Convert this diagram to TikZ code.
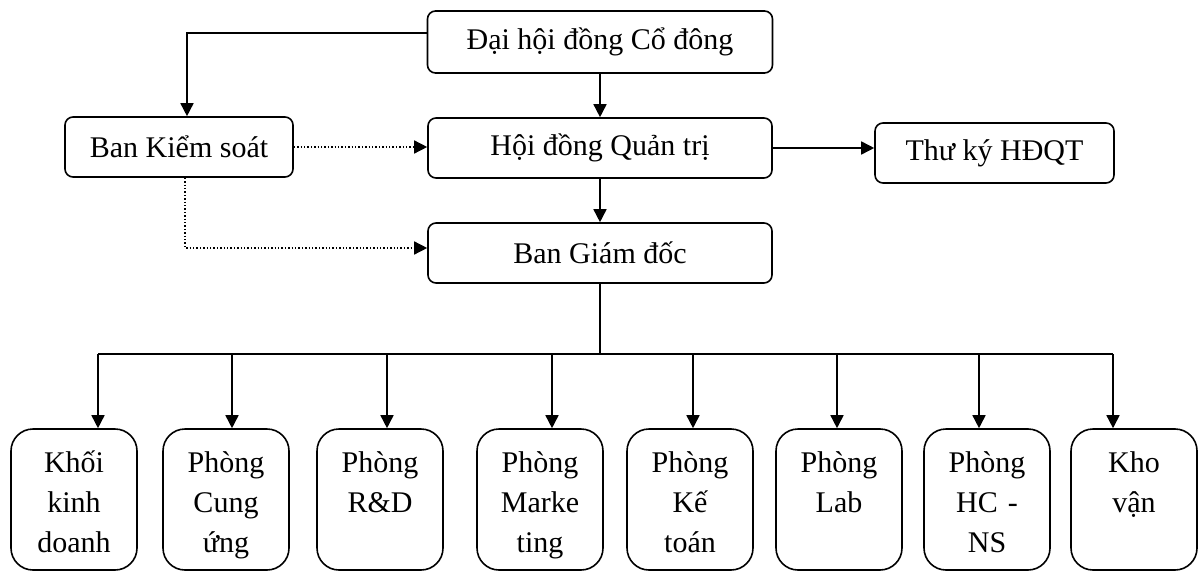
\documentclass[tikz,border=0pt]{standalone}
\usepackage{fontspec}
\setmainfont{Liberation Serif}
\usetikzlibrary{arrows.meta,positioning}

\begin{document}
\begin{tikzpicture}[
      x=0.5pt, y=-0.5pt,
      box/.style={draw, line width=0.8pt, rounded corners=4pt, minimum width=172pt,
        minimum height=30pt, inner sep=2pt, font=\fontsize{15}{20}\selectfont},
      unit/.style={draw, line width=0.8pt, rounded corners=11pt, minimum width=63pt,
        minimum height=70.5pt, text width=60pt, align=center, inner sep=0pt,
        font=\fontsize{15}{20}\selectfont,
        execute at begin node={\rule{0pt}{19pt}\strut}, execute at end node=\strut},
      link/.style={line width=0.8pt, -{Triangle[length=6.5pt,width=6.5pt]}},
      ctrl/.style={line width=0.7pt, densely dotted, -{Triangle[length=6.5pt,width=6.5pt]}}]
    \useasboundingbox (0,0) rectangle (1202,572);
    \node[box, minimum width=172.5pt, minimum height=31pt] (dhcd) at (600,42) {Đại hội đồng Cổ đông};
    \node[box] (hdqt) at (600,148) {Hội đồng Quản trị};
    \node[box] (bgd) at (600,253) {Ban Giám đốc};
    \node[box, minimum width=114pt] (bks) at (179,147) {Ban Kiểm soát};
    \node[box, minimum width=119.5pt] (tk) at (994.5,153) {Thư ký HĐQT};
    \draw[link] ([yshift=4.5pt]dhcd.west) -| ([xshift=4pt]bks.north);
    \draw[link] (dhcd) -- (hdqt);
    \draw[link] (hdqt) -- (bgd);
    \draw[link] (hdqt.east) -- (hdqt.east -| tk.west);
    \draw[ctrl] (bks.east) -- (bks.east -| hdqt.west);
    \draw[ctrl] ([xshift=3pt]bks.south) |- ([yshift=2.5pt]bgd.west);
    % units under the board of directors
    \foreach \i/\cx/\ax/\txt in {1/74/98/{Khối\\kinh\\doanh},
        2/226/232/{Phòng\\Cung\\ứng}, 3/380/387/{Phòng\\R\&D\\},
        4/540/552/{Phòng\\Marke\\ting}, 5/690/693/{Phòng\\Kế\\toán},
        6/839/837/{Phòng\\Lab\\}, 7/987/979/{Phòng\\HC -\\NS},
        8/1134/1113/{Kho\\vận\\}}
    {
      \node[unit] (d\i) at (\cx,499.5) {\txt};
      \coordinate (b\i) at (\ax,354);
      \draw[link] (b\i) -- (b\i |- d\i.north);
    }
    \draw[line width=0.8pt] (b1) -- (b8);
    \draw[line width=0.8pt] (bgd.south) -- (bgd.south |- b1);
  \end{tikzpicture}
\end{document}
